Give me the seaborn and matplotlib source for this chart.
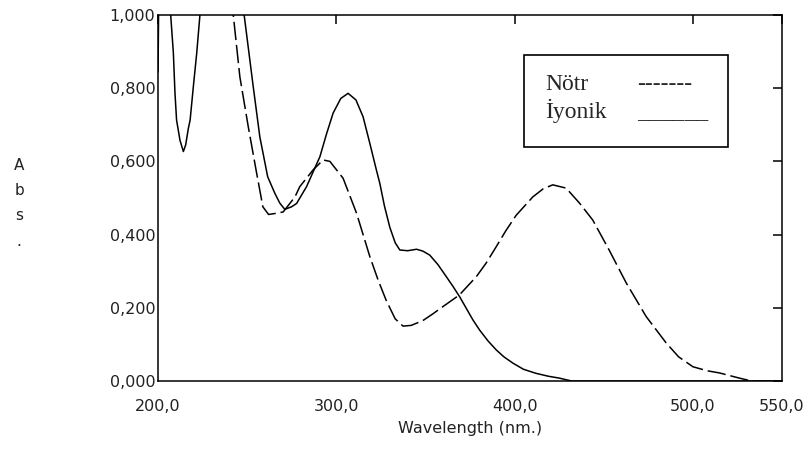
import matplotlib
matplotlib.use('Agg')
import matplotlib.pyplot as plt
import seaborn as sns
from matplotlib.patches import Rectangle
from matplotlib.ticker import FuncFormatter

# Absorbance spectra (wavelength in nm, absorbance)
# values above 1.0 run off the top of the plot and are clipped, as in the original
ionic_wl = [200.0, 200.4, 206.5, 207.1, 208.6, 209.5, 210.4, 212.3, 214.2, 215.5,
            217.0, 218.0, 219.8, 221.7, 223.5, 224.3, 247.6, 248.3, 251.5, 253.4,
            257.1, 261.5, 265.5, 268.3, 271.1, 274.9, 277.7, 283.3, 290.8, 294.5,
            298.2, 302.5, 306.6, 311.0, 315.0, 318.5, 322.5, 324.4, 327.0, 330.0,
            333.0, 335.6, 340.0, 345.0, 348.5, 352.4, 357.0, 361.7, 365.5, 369.2,
            376.6, 380.4, 385.0, 389.7, 394.0, 399.0, 405.0, 412.0, 419.0, 425.0,
            432.0, 550.0]
ionic_abs = [0.844, 1.05, 1.05, 1.0, 0.896, 0.787, 0.713, 0.658, 0.627, 0.645,
             0.69, 0.713, 0.804, 0.896, 1.0, 1.05, 1.05, 1.0, 0.877, 0.804,
             0.667, 0.558, 0.513, 0.486, 0.469, 0.476, 0.485, 0.531, 0.613, 0.675,
             0.732, 0.772, 0.786, 0.768, 0.722, 0.655, 0.576, 0.54, 0.478, 0.42,
             0.378, 0.358, 0.356, 0.36, 0.355, 0.344, 0.318, 0.285, 0.258, 0.23,
             0.167, 0.139, 0.11, 0.085, 0.066, 0.049, 0.032, 0.021, 0.013, 0.008,
             0.0, 0.0]

neutral_wl = [240.0, 242.2, 245.9, 250.6, 255.3, 258.8, 262.0, 266.0, 270.2, 276.8,
              279.5, 287.0, 292.6, 296.4, 303.8, 311.3, 318.8, 323.5, 328.0, 333.0,
              337.4, 342.0, 348.5, 354.0, 359.7, 369.0, 378.5, 384.0, 389.7, 395.0,
              400.9, 410.2, 416.0, 421.4, 428.9, 436.4, 443.8, 453.0, 462.6, 473.8,
              485.0, 492.0, 500.0, 508.0, 515.0, 526.0, 533.0, 550.0]
neutral_abs = [1.05, 1.0, 0.831, 0.695, 0.568, 0.476, 0.455, 0.458, 0.462, 0.503,
               0.531, 0.577, 0.604, 0.60, 0.554, 0.459, 0.34, 0.275, 0.22, 0.17,
               0.15, 0.152, 0.165, 0.183, 0.203, 0.235, 0.285, 0.322, 0.367, 0.41,
               0.453, 0.503, 0.525, 0.536, 0.527, 0.486, 0.44, 0.358, 0.268, 0.176,
               0.104, 0.066, 0.039, 0.028, 0.022, 0.008, 0.0, 0.0]

x_ticks = [200, 300, 400, 500, 550]
y_ticks = [0.0, 0.2, 0.4, 0.6, 0.8, 1.0]
legend_labels = ['Nötr', 'İyonik']
legend_samples = ['-------', '______']

sns.set_theme(style='white')
plt.rcParams['font.family'] = ['DejaVu Sans']

fig = plt.figure(figsize=(8.1, 4.49), dpi=100)
ax = fig.add_axes([0.1951, 0.1514, 0.7704, 0.8152])

sns.lineplot(x=ionic_wl, y=ionic_abs, ax=ax, color='black', linewidth=1.1,
             sort=False, estimator=None)
sns.lineplot(x=neutral_wl, y=neutral_abs, ax=ax, color='black', linewidth=1.1,
             sort=False, estimator=None, linestyle=(0, (12, 3.2)))

ax.set_xlim(200, 550)
ax.set_ylim(0, 1)
ax.set_xticks(x_ticks)
ax.set_yticks(y_ticks)
ax.xaxis.set_major_formatter(FuncFormatter(lambda v, p: f'{v:.1f}'.replace('.', ',')))
ax.yaxis.set_major_formatter(FuncFormatter(lambda v, p: f'{v:.3f}'.replace('.', ',')))
ax.tick_params(direction='in', length=6.5, width=1.1, color='black',
               top=True, right=True, labelsize=11.5, labelcolor='#222222')
ax.tick_params(axis='x', pad=13)
ax.tick_params(axis='y', pad=2)
for s in ax.spines.values():
    s.set_color('black')
    s.set_linewidth(1.1)

ax.set_xlabel('Wavelength (nm.)', fontsize=11.5, color='#222222', labelpad=5)
ax.set_ylabel('')
fig.text(19 / 810, (449 - 158) / 449, 'A\nb\ns\n.', ha='center', va='top',
         fontsize=11, color='#222222', linespacing=1.85)

# legend drawn as a text box like the original
box = Rectangle((0.5865, 0.6393), 0.327, 0.2514, transform=ax.transAxes,
                facecolor='white', edgecolor='black', linewidth=1.2, zorder=5)
ax.add_patch(box)
serif = ['Liberation Serif', 'DejaVu Serif']
for i, (lab, smp) in enumerate(zip(legend_labels, legend_samples)):
    yb = 0.795 - i * 0.0765
    ax.text(0.6202, yb, lab, transform=ax.transAxes, ha='left', va='baseline',
            fontsize=17, family=serif, zorder=6)
    ax.text(0.7676, yb, smp, transform=ax.transAxes, ha='left', va='baseline',
            fontsize=17, family=serif, zorder=6)

fig.savefig('out.png', dpi=100)
